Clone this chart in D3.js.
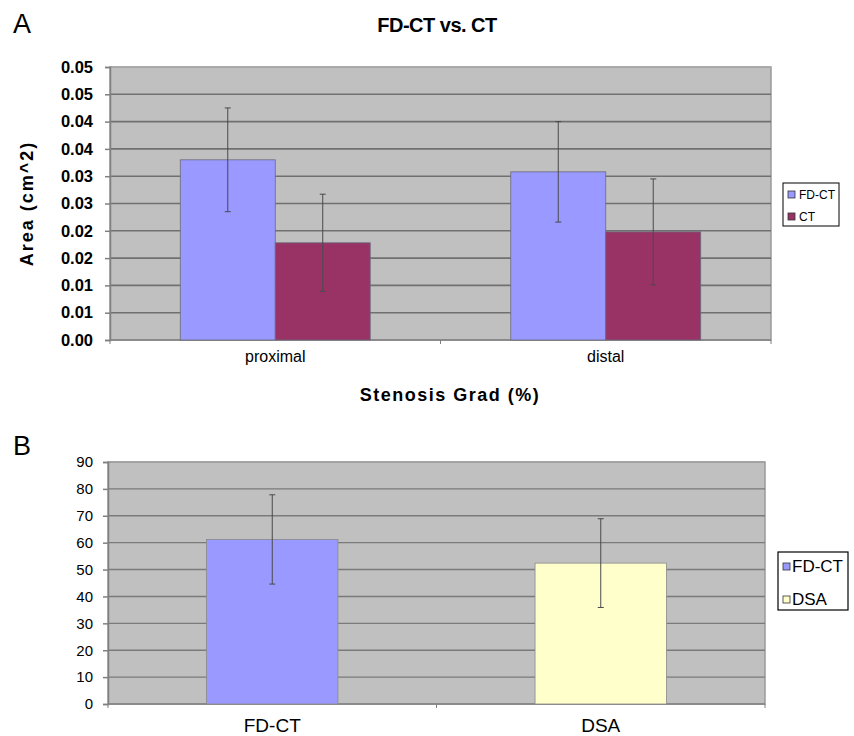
<!DOCTYPE html>
<html><head><meta charset="utf-8">
<script src="https://cdn.jsdelivr.net/npm/d3@7"></script>
<style>body{margin:0;background:#fff} svg{display:block} text{font-family:"Liberation Sans",Arial,Helvetica,sans-serif;fill:#000}</style>
</head><body><svg id="c" width="854" height="736"></svg>
<script>
// ---------- data ----------
const topCategories = ["proximal", "distal"];
const topSeries = ["FD-CT", "CT"];
const topFDCT = [0.0330, 0.0308];
const topFDCTErr = [0.0095, 0.0092];
const topCT = [0.0178, 0.0198];
const topCTErr = [0.0089, 0.0097];
const topTicks = [0, 0.005, 0.01, 0.015, 0.02, 0.025, 0.03, 0.035, 0.04, 0.045, 0.05];
const topTickLabels = ["0.00", "0.01", "0.01", "0.02", "0.02", "0.03", "0.03", "0.04", "0.04", "0.05", "0.05"];

const bottomCategories = ["FD-CT", "DSA"];
const bottomValues = [61.2, 52.4];
const bottomErr = [16.6, 16.5];
const bottomTicks = [0, 10, 20, 30, 40, 50, 60, 70, 80, 90];
const bottomTickLabels = ["0", "10", "20", "30", "40", "50", "60", "70", "80", "90"];

const colors = {"FD-CT": "#9999FF", "CT": "#993366", "DSA": "#FFFFCC"};

const svg = d3.select("#c");
const font = '"Liberation Sans",Arial,sans-serif';

function errBar(g, cx, yHi, yLo) {
  g.append("line").attr("x1", cx).attr("x2", cx).attr("y1", yHi).attr("y2", yLo)
    .attr("stroke", "#4a4a4a").attr("stroke-width", 1);
  [yHi, yLo].forEach(yy => g.append("line").attr("x1", cx - 3).attr("x2", cx + 3)
    .attr("y1", yy).attr("y2", yy).attr("stroke", "#4a4a4a").attr("stroke-width", 1));
}

// ---------- Panel A ----------
{
  const L = 110, R = 771, T = 67, B = 340;
  const y = d3.scaleLinear().domain([0, 0.05]).range([B, T]);
  const x = d3.scaleBand().domain(topCategories).range([L, R]).padding(0);
  const xs = d3.scaleBand().domain(topSeries).range([0, x.bandwidth()]).paddingInner(0).paddingOuter(0.74);
  const g = svg.append("g");

  g.append("rect").attr("x", L).attr("y", T).attr("width", R - L).attr("height", B - T)
    .attr("fill", "#C0C0C0").attr("stroke", "#9a9a9a").attr("stroke-width", 1.5);

  g.selectAll("line.grid").data(topTicks.slice(1)).join("line")
    .attr("x1", L).attr("x2", R).attr("y1", d => y(d)).attr("y2", d => y(d))
    .attr("stroke", (d, i) => i === topTicks.length - 2 ? "#a8a8a8" : "#707070").attr("stroke-width", 1.6);

  const ax = g.append("g").attr("transform", `translate(${L},0)`)
    .call(d3.axisLeft(y).tickValues(topTicks).tickFormat((d, i) => topTickLabels[i]).tickSize(5).tickPadding(12));
  ax.select(".domain").attr("stroke", "#808080").attr("stroke-width", 1.5);
  ax.selectAll(".tick line").attr("stroke", "#808080").attr("stroke-width", 1.5);
  ax.selectAll(".tick text").attr("font-size", 16.5).attr("font-weight", "bold").attr("font-family", font).attr("fill", "#111");

  g.append("line").attr("x1", L).attr("x2", R).attr("y1", B).attr("y2", B).attr("stroke", "#808080").attr("stroke-width", 1.5);
  [L, x.bandwidth() + L, R].forEach(xx => g.append("line").attr("x1", xx).attr("x2", xx).attr("y1", B).attr("y2", B + 4).attr("stroke", "#808080"));

  const vals = {"FD-CT": topFDCT, "CT": topCT};
  const errs = {"FD-CT": topFDCTErr, "CT": topCTErr};
  topCategories.forEach((c, ci) => {
    topSeries.forEach(s => {
      const x0 = x(c) + xs(s), w = xs.bandwidth(), v = vals[s][ci];
      g.append("rect").attr("x", x0).attr("y", y(v)).attr("width", w).attr("height", B - y(v))
        .attr("fill", colors[s]).attr("stroke", "#6a6a7a").attr("stroke-width", 0.8);
    });
  });
  topCategories.forEach((c, ci) => {
    topSeries.forEach(s => {
      const cx = x(c) + xs(s) + xs.bandwidth() / 2, v = vals[s][ci], e = errs[s][ci];
      errBar(g, cx, y(v + e), y(v - e));
    });
  });

  g.selectAll("text.cat").data(topCategories).join("text")
    .attr("x", d => x(d) + x.bandwidth() / 2).attr("y", 362).attr("text-anchor", "middle")
    .attr("font-size", 16).text(d => d);

  svg.append("text").attr("x", 450).attr("y", 401).attr("text-anchor", "middle")
    .attr("font-size", 18).attr("font-weight", "bold").attr("letter-spacing", 1.5).text("Stenosis Grad (%)");
  svg.append("text").attr("transform", `translate(33,${(T + B) / 2}) rotate(-90)`).attr("text-anchor", "middle")
    .attr("font-size", 18).attr("font-weight", "bold").attr("letter-spacing", 2).text("Area (cm^2)");
  svg.append("text").attr("x", 437).attr("y", 32).attr("text-anchor", "middle")
    .attr("font-size", 20).attr("font-weight", "bold").attr("letter-spacing", -0.5).text("FD-CT vs. CT");
  svg.append("text").attr("x", 13).attr("y", 33).attr("font-size", 27).text("A");

  // legend
  const lg = svg.append("g");
  lg.append("rect").attr("x", 783).attr("y", 183).attr("width", 56).attr("height", 43)
    .attr("fill", "#fff").attr("stroke", "#000").attr("stroke-width", 1);
  topSeries.forEach((s, i) => {
    lg.append("rect").attr("x", 788).attr("y", 191 + i * 22).attr("width", 7).attr("height", 7)
      .attr("fill", colors[s]).attr("stroke", "#333").attr("stroke-width", 0.8);
    lg.append("text").attr("x", 799).attr("y", 199 + i * 22).attr("font-size", 12).text(s);
  });
}

// ---------- Panel B ----------
{
  const L = 108, R = 765, T = 462, B = 704;
  const y = d3.scaleLinear().domain([0, 90]).range([B, T]);
  const x = d3.scaleBand().domain(bottomCategories).range([L, R]).padding(0);
  const g = svg.append("g");

  g.append("rect").attr("x", L).attr("y", T).attr("width", R - L).attr("height", B - T)
    .attr("fill", "#C0C0C0").attr("stroke", "#9a9a9a").attr("stroke-width", 1.5);
  g.selectAll("line.grid").data(bottomTicks.slice(1)).join("line")
    .attr("x1", L).attr("x2", R).attr("y1", d => y(d)).attr("y2", d => y(d))
    .attr("stroke", (d, i) => i === bottomTicks.length - 2 ? "#a0a0a0" : "#7a7a7a").attr("stroke-width", 1.4);

  const ax = g.append("g").attr("transform", `translate(${L},0)`)
    .call(d3.axisLeft(y).tickValues(bottomTicks).tickFormat((d, i) => bottomTickLabels[i]).tickSize(5).tickPadding(10));
  ax.select(".domain").attr("stroke", "#808080").attr("stroke-width", 1.5);
  ax.selectAll(".tick line").attr("stroke", "#808080").attr("stroke-width", 1.5);
  ax.selectAll(".tick text").attr("font-size", 15).attr("font-family", font).attr("fill", "#000");

  g.append("line").attr("x1", L).attr("x2", R).attr("y1", B).attr("y2", B).attr("stroke", "#808080").attr("stroke-width", 1.5);
  [L, x.bandwidth() + L, R].forEach(xx => g.append("line").attr("x1", xx).attr("x2", xx).attr("y1", B).attr("y2", B + 4).attr("stroke", "#808080"));

  bottomCategories.forEach((c, i) => {
    const w = x.bandwidth() * 0.4, x0 = x(c) + (x.bandwidth() - w) / 2, v = bottomValues[i];
    g.append("rect").attr("x", x0).attr("y", y(v)).attr("width", w).attr("height", B - y(v))
      .attr("fill", colors[c]).attr("stroke", "#8a8a8a").attr("stroke-width", 0.8);
  });
  bottomCategories.forEach((c, i) => {
    const cx = x(c) + x.bandwidth() / 2, v = bottomValues[i], e = bottomErr[i];
    errBar(g, cx, y(v + e), y(v - e));
  });

  g.selectAll("text.cat").data(bottomCategories).join("text")
    .attr("x", d => x(d) + x.bandwidth() / 2).attr("y", 732).attr("text-anchor", "middle")
    .attr("font-size", 19).text(d => d);

  svg.append("text").attr("x", 13).attr("y", 455).attr("font-size", 27).text("B");

  const lg = svg.append("g");
  lg.append("rect").attr("x", 778).attr("y", 552).attr("width", 70).attr("height", 58)
    .attr("fill", "#fff").attr("stroke", "#000").attr("stroke-width", 1.2);
  bottomCategories.forEach((s, i) => {
    lg.append("rect").attr("x", 783).attr("y", 563 + i * 33).attr("width", 7).attr("height", 7)
      .attr("fill", colors[s]).attr("stroke", "#333").attr("stroke-width", 0.8);
    lg.append("text").attr("x", 792).attr("y", 572 + i * 33).attr("font-size", 17).text(s);
  });
}
</script></body></html>
